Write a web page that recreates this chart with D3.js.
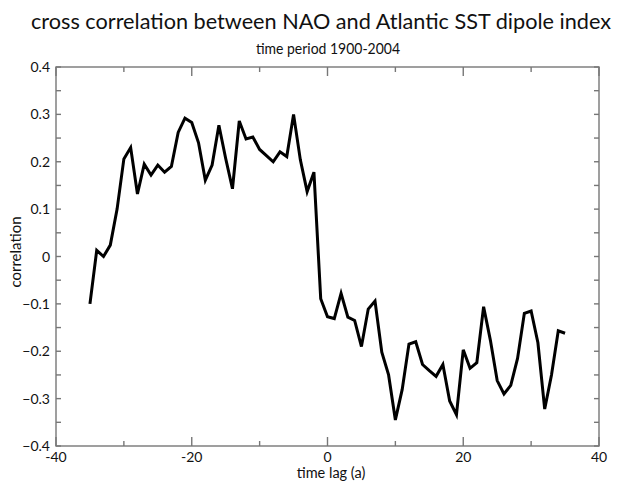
<!DOCTYPE html>
<html>
<head>
<meta charset="utf-8">
<title>cross correlation</title>
<script src="https://cdn.jsdelivr.net/npm/d3@7"></script>
<style>
  html, body { margin: 0; padding: 0; background: #fff; }
  text { font-family: Lato, "Open Sans", sans-serif; fill: #111; }
</style>
</head>
<body>
<div id="graph"></div>
<script>
// lag in years, -35 .. 35
var lags = d3.range(-35, 36);
var corr = [
  -0.100, 0.013, 0.000, 0.024, 0.100, 0.206, 0.230, 0.132, 0.195, 0.172,
   0.193, 0.178, 0.190, 0.262, 0.292, 0.283, 0.240, 0.161, 0.193, 0.277,
   0.207, 0.143, 0.286, 0.248, 0.252, 0.226, 0.213, 0.200, 0.221, 0.211,
   0.300, 0.204, 0.137, 0.178, -0.089, -0.127, -0.131, -0.078, -0.128, -0.135,
  -0.190, -0.111, -0.094, -0.202, -0.250, -0.345, -0.281, -0.185, -0.180, -0.228,
  -0.241, -0.253, -0.228, -0.305, -0.334, -0.197, -0.236, -0.224, -0.106, -0.177,
  -0.262, -0.290, -0.272, -0.215, -0.120, -0.115, -0.182, -0.322, -0.250, -0.157,
  -0.162
];
var xTicks = [-40, -20, 0, 20, 40];
var xMinor = [-30, -10, 10, 30];
var yTicks = [-0.4, -0.3, -0.2, -0.1, 0, 0.1, 0.2, 0.3, 0.4];
var yMinor = [-0.35, -0.25, -0.15, -0.05, 0.05, 0.15, 0.25, 0.35];

var W = 625, H = 482;
var L = 56, R = 599, T = 67, B = 446;

var svg = d3.select('#graph').append('svg')
  .attr('width', W).attr('height', H);

var x = d3.scaleLinear().domain([-40, 40]).range([L, R]);
var y = d3.scaleLinear().domain([-0.4, 0.4]).range([B, T]);

function fmt(d) { return d === 0 ? '0' : d3.format('.1f')(d); }

// axes, ticks pointing inward
var ax = svg.append('g').attr('stroke', '#777').attr('stroke-width', 1.4);
ax.append('rect').attr('x', L).attr('y', T).attr('width', R - L).attr('height', B - T)
  .attr('fill', 'none');

function xLen(d) { return xTicks.indexOf(d) >= 0 ? 9 : 5; }
ax.selectAll('line.xb').data(xTicks.concat(xMinor)).enter().append('line')
  .attr('x1', function(d) { return x(d); }).attr('x2', function(d) { return x(d); })
  .attr('y1', B).attr('y2', function(d) { return B - xLen(d); });
ax.selectAll('line.xt').data(xTicks.concat(xMinor)).enter().append('line')
  .attr('x1', function(d) { return x(d); }).attr('x2', function(d) { return x(d); })
  .attr('y1', T).attr('y2', function(d) { return T + xLen(d); });
ax.selectAll('line.yl').data(yTicks.concat(yMinor)).enter().append('line')
  .attr('y1', function(d) { return y(d); }).attr('y2', function(d) { return y(d); })
  .attr('x1', L).attr('x2', L + 5);
ax.selectAll('line.yr').data(yTicks.concat(yMinor)).enter().append('line')
  .attr('y1', function(d) { return y(d); }).attr('y2', function(d) { return y(d); })
  .attr('x1', R).attr('x2', R - 5);

svg.selectAll('text.xl').data(xTicks).enter().append('text')
  .attr('x', function(d) { return x(d); }).attr('y', B + 16)
  .attr('text-anchor', 'middle').attr('font-size', 14)
  .text(function(d) { return d; });
svg.selectAll('text.yl').data(yTicks).enter().append('text')
  .attr('x', L - 6).attr('y', function(d) { return y(d) + 5; })
  .attr('text-anchor', 'end').attr('font-size', 14)
  .text(fmt);

// the curve
var line = d3.line()
  .x(function(d, i) { return x(lags[i]); })
  .y(function(d) { return y(d); });
svg.append('path').datum(corr)
  .attr('d', line)
  .attr('fill', 'none').attr('stroke', '#000')
  .attr('stroke-width', 3).attr('stroke-linejoin', 'miter');

// titles
svg.append('text').attr('x', 321).attr('y', 29)
  .attr('text-anchor', 'middle').attr('font-size', 21)
  .attr('textLength', 580).attr('lengthAdjust', 'spacingAndGlyphs')
  .text('cross correlation between NAO and Atlantic SST dipole index');
svg.append('text').attr('x', 328).attr('y', 54)
  .attr('text-anchor', 'middle').attr('font-size', 16)
  .attr('textLength', 144).attr('lengthAdjust', 'spacingAndGlyphs')
  .text('time period 1900-2004');
svg.append('text').attr('x', 331).attr('y', 478)
  .attr('text-anchor', 'middle').attr('font-size', 14.5)
  .text('time lag (a)');
svg.append('text')
  .attr('transform', 'translate(21,252) rotate(-90)')
  .attr('text-anchor', 'middle').attr('font-size', 15)
  .text('correlation');
</script>
</body>
</html>
